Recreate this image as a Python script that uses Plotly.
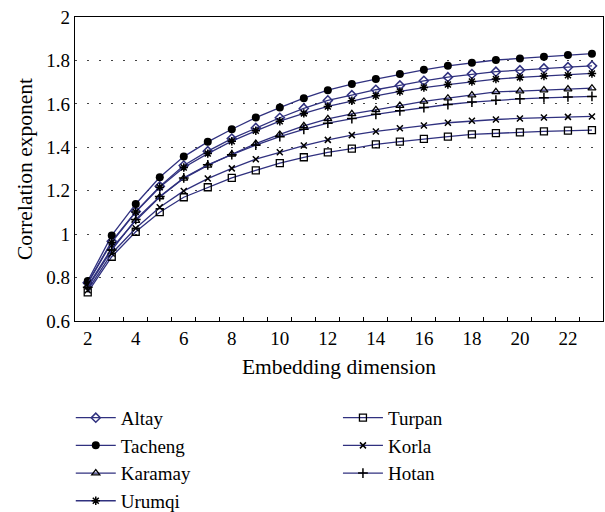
import plotly.graph_objects as go

dims = list(range(2, 24))

altay = [0.776, 0.967, 1.104, 1.220, 1.316, 1.382, 1.440, 1.489, 1.536, 1.579, 1.616,
         1.640, 1.665, 1.685, 1.706, 1.723, 1.737, 1.748, 1.755, 1.763, 1.769, 1.775]
tacheng = [0.784, 0.994, 1.139, 1.262, 1.357, 1.425, 1.483, 1.537, 1.583, 1.626, 1.663,
           1.691, 1.714, 1.737, 1.757, 1.775, 1.789, 1.802, 1.809, 1.817, 1.825, 1.831]
karamay = [0.761, 0.935, 1.062, 1.171, 1.257, 1.317, 1.368, 1.417, 1.459, 1.499, 1.531,
           1.554, 1.572, 1.592, 1.611, 1.626, 1.640, 1.655, 1.659, 1.663, 1.668, 1.672]
urumqi = [0.773, 0.962, 1.102, 1.216, 1.307, 1.371, 1.428, 1.476, 1.520, 1.556, 1.588,
          1.614, 1.637, 1.657, 1.675, 1.689, 1.703, 1.714, 1.722, 1.728, 1.732, 1.740]
turpan = [0.732, 0.896, 1.011, 1.101, 1.170, 1.216, 1.259, 1.294, 1.327, 1.354, 1.377,
          1.394, 1.413, 1.426, 1.439, 1.449, 1.459, 1.465, 1.469, 1.473, 1.477, 1.479]
korla = [0.742, 0.911, 1.027, 1.124, 1.199, 1.256, 1.303, 1.345, 1.377, 1.408, 1.434,
         1.456, 1.473, 1.488, 1.500, 1.513, 1.522, 1.528, 1.533, 1.537, 1.540, 1.542]
hotan = [0.755, 0.927, 1.068, 1.173, 1.259, 1.319, 1.366, 1.410, 1.449, 1.483, 1.511,
         1.532, 1.552, 1.568, 1.583, 1.597, 1.608, 1.617, 1.623, 1.628, 1.632, 1.634]

x_tick_vals = [2, 4, 6, 8, 10, 12, 14, 16, 18, 20, 22]
x_minor_ticks = [d + 0.5 for d in range(2, 23)]
y_tick_vals = [0.6, 0.8, 1.0, 1.2, 1.4, 1.6, 1.8, 2.0]
y_tick_text = ["0.6", "0.8", "1", "1.2", "1.4", "1.6", "1.8", "2"]

LINE = "#30317f"
FONT = "Liberation Serif, Times New Roman, DejaVu Serif, serif"

series = [
    ("Altay", altay, dict(symbol="diamond-open", size=7, color=LINE, line=dict(width=1.5, color=LINE)), "legend"),
    ("Tacheng", tacheng, dict(symbol="circle", size=8, color="black"), "legend"),
    ("Karamay", karamay, dict(symbol="triangle-up-open", size=7, color="black", line=dict(width=1.3, color="black")), "legend"),
    ("Urumqi", urumqi, dict(symbol="asterisk-open", size=7, color="black", line=dict(width=1.5, color="black")), "legend"),
    ("Turpan", turpan, dict(symbol="square-open", size=7, color="black", line=dict(width=1.3, color="black")), "legend2"),
    ("Korla", korla, dict(symbol="x-thin-open", size=6, color="black", line=dict(width=1.5, color="black")), "legend2"),
    ("Hotan", hotan, dict(symbol="cross-thin-open", size=7, color="black", line=dict(width=1.5, color="black")), "legend2"),
]

fig = go.Figure()
for name, vals, marker, leg in series:
    fig.add_trace(go.Scatter(
        x=dims, y=vals, name=name, mode="lines+markers",
        line=dict(color=LINE, width=1.3), marker=marker, legend=leg,
    ))

legend_common = dict(
    font=dict(family=FONT, size=19, color="black"),
    bgcolor="rgba(0,0,0,0)", xanchor="left", yanchor="top",
    orientation="v", itemwidth=40,
)

fig.update_layout(
    width=605, height=512,
    margin=dict(l=75, r=2, t=17, b=191, autoexpand=False),
    paper_bgcolor="white", plot_bgcolor="white",
    font=dict(family=FONT, size=19, color="black"),
    legend=dict(x=-0.008, y=-0.256, **legend_common),
    legend2=dict(x=0.498, y=-0.256, **legend_common),
    xaxis=dict(
        range=[1.47, 23.46], tickmode="array", tickvals=x_tick_vals,
        ticks="", showgrid=False, zeroline=False, automargin=False,
        showline=True, linecolor="black", linewidth=1.2, mirror=True,
        minor=dict(tickmode="array", tickvals=x_minor_ticks, ticks="inside",
                   ticklen=4, tickcolor="black", showgrid=False),
        title=dict(text="Embedding dimension", font=dict(size=21.5), standoff=11),
        tickfont=dict(size=19),
    ),
    yaxis=dict(
        range=[0.6, 2.0], tickmode="array", tickvals=y_tick_vals, ticktext=y_tick_text,
        ticks="", showgrid=True, gridcolor="#444", griddash="2px,10px", gridwidth=1,
        zeroline=False, showline=True, linecolor="black", linewidth=1.2, mirror=True,
        automargin=False,
        title=dict(text="Correlation exponent", font=dict(size=21.5), standoff=7),
        tickfont=dict(size=19),
    ),
)

fig.write_html("out.html", config={"displayModeBar": False},
               post_script="document.body.style.margin='0';document.body.style.overflow='hidden';")
